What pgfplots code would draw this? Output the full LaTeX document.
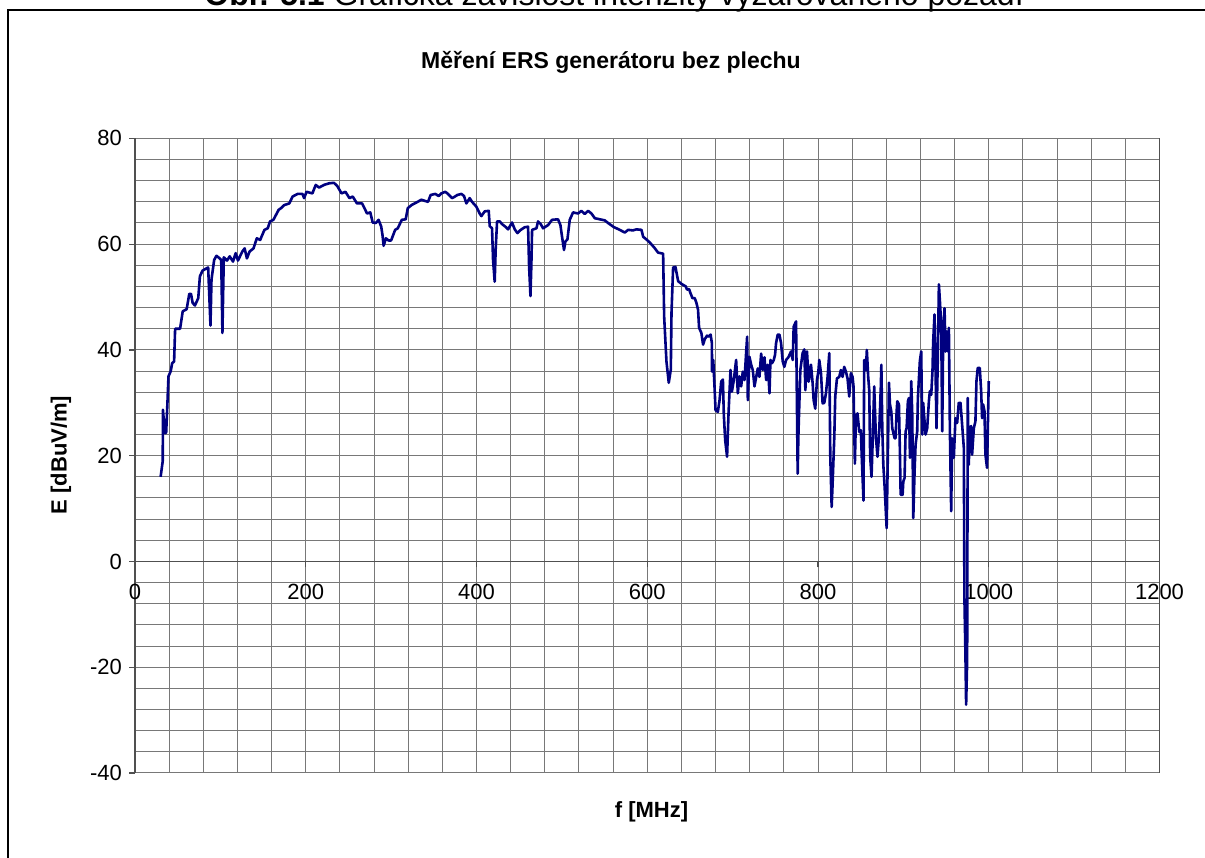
\documentclass[border=0pt]{standalone}
\usepackage{pgfplots}
\pgfplotsset{compat=1.18}
\usepackage{pgfplotstable}
\usepackage{fontspec}
\setmainfont{Liberation Sans}
\definecolor{navy}{RGB}{0,0,128}
\definecolor{gridgray}{RGB}{120,120,120}
\definecolor{axgray}{RGB}{80,80,80}
\pgfplotstableread{
f E
30 16
32.5 19
32.7 28.7
35 24.3
36.5 24.3
38 30
39.2 35
41.9 36
43.5 37.5
45.8 37.8
47 44
52.8 44
55.9 47.3
60.5 47.7
63.6 50.6
65.6 50.6
67.5 48.9
70.2 48.4
74.1 49.8
76 53.9
79.1 55
85.7 55.6
86.9 50.7
88.4 44.6
89.6 53.3
92.7 57
95.4 57.8
99.3 57.3
101 57
102.4 43.2
104 57.5
107.8 56.9
110.9 57.7
114.8 56.7
117.9 58.3
120.6 56.9
125.7 58.6
128.4 59.2
131.1 57.3
134.2 58.6
138.8 59.2
142.7 61.1
146.6 60.8
151.6 62.7
155.5 63
158.2 64.3
162.1 64.6
168.3 66.5
171 66.8
174.9 67.4
180.7 67.7
184.6 69
190.4 69.5
196.2 69.5
198.1 68.7
200.9 69.9
207.8 69.6
211.7 71.2
215.6 70.7
221.4 71.2
227.2 71.5
233 71.6
236.9 71
241.9 69.6
246.5 69.9
251.2 68.7
255 69
260 67.7
266 67.7
271.8 65.8
275.6 66
278.4 64.1
282.2 64
285.3 64.6
288.4 63.3
290 61.6
291.2 59.7
293.9 61.1
297 60.7
300 60.7
304.7 62.7
307.8 63
312.5 64.6
317.1 64.7
319.5 66.8
324 67.4
331 68
335.4 68.4
343.2 68
346.3 69.3
351.8 69.5
355.7 69.1
358.8 69.6
363.5 69.9
366.6 69.5
371.3 68.7
373.7 68.9
377.6 69.3
382.3 69.5
385.4 69.1
388.1 67.7
392 68.7
394.8 68
399.8 67.1
403.7 65.8
405.7 65.3
409.6 66.2
414.3 66.3
415.5 63.4
418.2 63
419.4 57
421.3 52.9
422.5 59.2
424.1 64.3
427.2 64.3
429.9 63.8
433.8 63.3
437 62.8
441.6 64.1
444.8 62.8
447.9 62.1
451.8 62.7
456.5 63.2
460.4 63.3
461.6 55.8
463.2 50.2
464.3 56.4
465.1 62.7
470.2 63
472.1 64.3
475.2 63.8
478 63
483.8 63.6
488.5 64.6
495.5 64.7
498.3 63.6
500.2 61.4
502.5 58.9
504.1 60.5
506.5 60.9
509.2 64.6
513.1 66
519 65.8
522.9 66.3
526.8 65.7
530.7 66.3
534.6 65.8
538.6 64.9
544.4 64.7
550.2 64.5
554.1 64
561.1 63.2
566.6 62.8
573.7 62.2
577.6 62.7
583.4 62.6
587.3 62.8
593.2 62.7
595.2 61.4
599 60.9
603 60.3
608 59.4
612.7 58.4
618.6 58.2
619.8 46.3
622.5 37.8
625.2 33.8
627.6 36.3
628.4 47
630.3 55.6
633 55.7
636.2 53
640 52.5
645.1 52
646.6 51.4
649 51.5
650.5 50.8
652.9 49.8
655.6 49.8
657.6 48.9
659.5 47.6
660.7 44.2
663.4 43.2
665.4 41
667.3 42
670 42.7
671.8 42.5
674.2 42.9
675.7 41.3
675.9 35.9
677.3 38.1
678.8 33
680 28.6
682.7 28.3
684.7 30.5
686.6 34
688.6 34.4
689.7 27.7
691.3 22.9
693.5 19.8
695.2 28
697.5 36.2
699.1 32.1
701.4 34.3
704.1 38.1
706.1 31.8
708 35
710 33.1
711.9 35.9
713.9 34.3
715.8 39.4
717 42.5
717.8 30.5
719.7 38.7
721.7 37.2
723.6 36.2
725.6 33.1
727.6 34.9
729.5 36.5
731.4 34.9
733.4 39.3
735.4 36.2
737.3 38.6
739.3 34.3
741.2 37.2
743.2 31.8
744.3 38.1
746.2 37.5
748.2 38.1
749.7 39.1
750.9 41.3
752.8 42.9
754.8 42.9
756.7 41.3
758.7 37.8
760.6 36.8
762.6 38.1
765.3 38.6
768.4 39.7
770.4 38.1
771.5 44.4
774.3 45.4
775.4 28.6
776.2 16.6
777 23.6
779.3 36.2
782 39.4
784 40.1
785.2 32.4
787.1 39.7
789.1 34
791.8 37.2
793.7 33.7
794.9 30.5
796.8 28.9
798.8 34.3
800.4 35.9
801.5 38.1
803.5 35.6
805.4 29.9
807.4 30
809.3 31.8
811.3 35
813.2 39.4
814.4 19.8
816 10.3
817.1 14.7
819.1 23.6
820.2 31.2
822.2 34.6
824.9 34.9
826.8 36.2
828.8 34.9
830.7 36.8
832.7 35.9
834.6 34.6
836.6 31.2
838.5 35.6
840.5 34.9
841.6 33.1
842.4 25.5
843.2 18.5
844.4 27.4
846.3 28
848.3 24.5
850.2 24.8
851.4 19.1
853.3 11.5
854.1 38.1
856.1 36.2
857.2 40
858.8 34.9
860 32.4
861.1 19.8
862.7 16
864.2 23.6
865.8 33.1
867.8 23.6
869.7 19.8
871.6 24.2
873.6 33.1
874.2 37.2
875.3 25.2
876.5 18.3
878.1 13.9
880.4 6.3
882 22.1
883.1 33.8
884.3 29.7
885.8 28.4
887 25.2
889.7 23.3
890.9 23.3
892.1 28.4
892.9 30.3
894.8 29.7
896 20.2
896.8 12.6
899.1 12.6
899.9 15.1
901.4 15.8
902.6 24.6
903.8 25.2
905.3 30.3
906.5 30.9
907.7 19.6
909.2 34.1
910.4 27.8
911.6 8.2
913.1 17
914.3 22.1
916.2 24.6
917 30.9
919.3 37.9
920.9 39.7
922.1 24
923.2 30
924.8 26.5
926 24
927.9 25.2
929.9 30.3
931 32.2
932.6 31.5
934.1 36
934.9 41.6
936.5 46.7
937.7 36
938.8 25.2
940.4 39.1
941.6 52.4
942.8 49.2
944.3 44.8
945.5 24.6
946.7 43.5
948.2 47.9
949.4 39.7
950.6 43.5
952.1 39.7
953.3 44.2
954.5 24.6
956 9.5
957.1 23.3
959.1 19.6
961 27.1
963 26.2
964.9 30
966.9 30
968.8 25.9
970.8 21.5
971.5 -6.9
972.7 -17.7
973.5 -27.1
974.7 -18.9
975.4 30.9
976.6 18.3
977.8 25.2
979.3 25.6
980.5 20.2
982.5 25.2
984.4 26.5
985.6 34.1
987.1 36.6
989.5 36.6
991.1 32.2
992.2 27.1
993.4 29.7
995 28.4
996.1 20.2
998 17.7
1000 34.1
}\datatable
\begin{document}
\begin{tikzpicture}
\useasboundingbox (0,0) rectangle (602.5pt,428.5pt);
\draw[line width=1pt] (4pt,-20pt) -- (4pt,423.5pt) -- (640pt,423.5pt);
\node[anchor=base west, inner sep=0pt, font=\fontsize{16}{18}\selectfont] at (102pt,425.5pt) {\textbf{Obr. 5.1} Grafická závislost intenzity vyzařovaného pozadí};
\node[font=\fontsize{11.5}{13}\selectfont\bfseries] at (305.5pt,397.5pt) {Měření ERS generátoru bez plechu};
\node[rotate=90, font=\fontsize{11}{13}\selectfont\bfseries] at (30.5pt,201pt) {E [dBuV/m]};
\node[font=\fontsize{11}{13}\selectfont\bfseries] at (325.75pt,22.6pt) {f [MHz]};
\begin{axis}[
  at={(67.5pt,42pt)}, anchor=south west,
  scale only axis, width=512.25pt, height=317.3pt,
  xmin=0, xmax=1200, ymin=-40, ymax=80,
  axis x line=middle, axis y line=box,
  axis line style={-, axgray, line width=0.6pt},
  xtick={0,200,...,1200}, ytick={-40,-20,...,80},
  minor x tick num=4, minor y tick num=4,
  grid=both,
  major grid style={gridgray, line width=0.5pt},
  minor grid style={gridgray, line width=0.5pt},
  ytick pos=left, tick align=outside,
  major tick length=3pt, minor tick length=0pt,
  tick style={axgray, line width=0.6pt},
  hide obscured x ticks=false,
  tick label style={font=\fontsize{11}{13}\selectfont},
  /pgf/number format/assume math mode=true,
  /pgf/number format/1000 sep={},
  scaled ticks=false,
  xticklabel style={yshift=-5pt},
  clip=false,
]
\addplot[navy, line width=1.3pt, line join=round] table[x=f, y=E] {\datatable};
\end{axis}
\end{tikzpicture}
\end{document}
